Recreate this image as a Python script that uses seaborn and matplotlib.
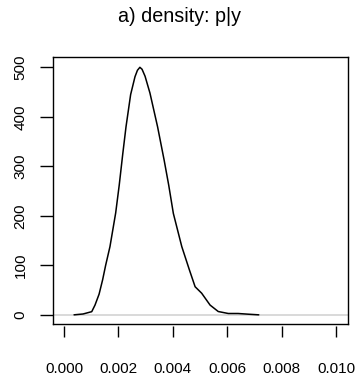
import numpy as np
import pandas as pd
import matplotlib
matplotlib.use('Agg')
import matplotlib.pyplot as plt
import seaborn as sns
from matplotlib.ticker import FormatStrFormatter

# Dichte p|y
p_vals = [0.00037, 0.00070, 0.00102, 0.00114, 0.00129, 0.00142, 0.00153, 0.00169,
          0.00190, 0.00203, 0.00216, 0.00228, 0.00245, 0.00261, 0.00270, 0.00279,
          0.00287, 0.00298, 0.00316, 0.00344, 0.00368, 0.00385, 0.00402, 0.00433,
          0.00461, 0.00482, 0.00506, 0.00537, 0.00567, 0.00604, 0.00640, 0.00680,
          0.00716]
dens = [0.3, 2, 6.7, 20, 42, 71, 100, 138,
        206, 262, 325, 380, 445, 481, 494, 500,
        496, 482, 448, 380, 313, 262, 205, 138,
        91, 57, 44, 20, 7, 3, 3, 1.5,
        0.3]
x_ticks = [0.000, 0.002, 0.004, 0.006, 0.008, 0.010]
y_ticks = [0, 100, 200, 300, 400, 500]
title = 'a) density: p|y'

df = pd.DataFrame({'p': p_vals, 'dens': dens})

sns.set_style('white')
plt.rcParams['font.family'] = ['Liberation Sans', 'DejaVu Sans']
plt.rcParams['text.color'] = 'black'
plt.rcParams['xtick.color'] = 'black'
plt.rcParams['ytick.color'] = 'black'

fig = plt.figure(figsize=(3.59, 3.81), dpi=100)
ax = fig.add_axes([53/359, 1-324/381, 295/359, 267/381])

ax.axhline(0, color='#d3d3d3', lw=1.2, zorder=1)
sns.lineplot(data=df, x='p', y='dens', color='black', lw=1.1, ax=ax, zorder=2)

ax.set_xlim(-0.000404, 0.01044)
ax.set_ylim(-18.2, 520.8)
ax.set_xlabel('')
ax.set_ylabel('')

for s in ax.spines.values():
    s.set_visible(True)
    s.set_color('black')
    s.set_linewidth(1.0)

# y-Achse
ax.set_yticks(y_ticks)
ax.tick_params(axis='y', direction='out', length=9.4, width=1.0, pad=9,
               labelsize=11, left=True, color='black', labelcolor='black')
for lab in ax.get_yticklabels():
    lab.set_rotation(90)
    lab.set_va('center')

# x-Achse abgesetzt (R-Stil)
ax.set_xticks([])
sec = ax.secondary_xaxis(location=-0.008)
sec.spines['bottom'].set_visible(False)
sec.set_xticks(x_ticks)
sec.xaxis.set_major_formatter(FormatStrFormatter('%.3f'))
sec.tick_params(axis='x', direction='out', length=8, width=1.0, pad=18,
                labelsize=11, color='black', labelcolor='black')

fig.text(0.5, 1-17/381, title, ha='center', va='center', fontsize=14.2,
         color='black')

fig.savefig('out.png', dpi=100)
